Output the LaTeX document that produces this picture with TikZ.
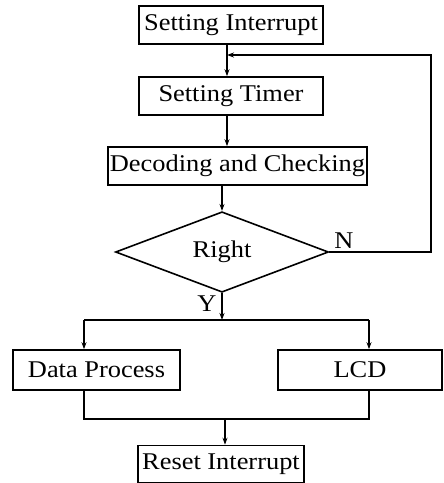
\documentclass[tikz,border=0pt]{standalone}
\usepackage{fontspec}
\setmainfont{Liberation Serif}[FakeStretch=1.1]
\usetikzlibrary{positioning,shapes.geometric,arrows.meta}

\begin{document}
\begin{tikzpicture}[
x=1pt, y=-1pt,
line width=1.4pt,
>={Stealth[length=7pt,width=5pt]},
box/.style={
draw,
line width=1.6pt,
minimum height=38pt,
inner sep=0pt,
font=\fontsize{24}{27}\selectfont
},
tag/.style={
inner sep=0pt,
font=\fontsize{24}{27}\selectfont
}
]

\useasboundingbox (0,0) rectangle (444,483);

\node[box, minimum width=184pt] (SI) at (231,25) {Setting Interrupt};

\node[box, minimum width=184pt] (ST) at (231,96) {Setting Timer};

\node[box, minimum width=259pt] (DC) at (237.5,166) {Decoding and Checking};

\node[box, diamond, minimum width=213pt, minimum height=70pt] (R) at (222,252) {Right};

\node[box, minimum width=167pt, minimum height=40pt] (DP) at (96.5,370) {Data Process};

\node[box, minimum width=164pt, minimum height=40pt] (LCD) at (360,370) {LCD};

\node[box, minimum width=166pt, minimum height=37pt] (RI) at (221,464) {Reset Interrupt};

\node[tag] (N) at (344,241) {N};
\node[tag] (Y) at (207,304) {Y};

% helper points for the lines
\coordinate (col) at (227,0);
\coordinate (loop) at (431,0);
\coordinate (back) at (227,55);
\coordinate (split) at (222,320);
\coordinate (left) at (84,0);
\coordinate (right) at (369,0);
\coordinate (join) at (225,419);

\draw[->] (SI.south -| col) -- (ST.north -| col);
\draw[->] (ST.south -| col) -- (DC.north -| col);
\draw[->] (DC.south -| R.north) -- (R.north);
\draw[->] (R.east) -- (R.east -| loop) |- (back);
\draw[->] (R.south) -- (split);
\draw (split -| left) -- (split -| right);
\draw[->] (split -| left) -- (DP.north -| left);
\draw[->] (split -| right) -- (LCD.north -| right);
\draw (DP.south -| left) |- (join) -| (LCD.south -| right);
\draw[->] (join) -- (RI.north -| join);

\end{tikzpicture}
\end{document}
